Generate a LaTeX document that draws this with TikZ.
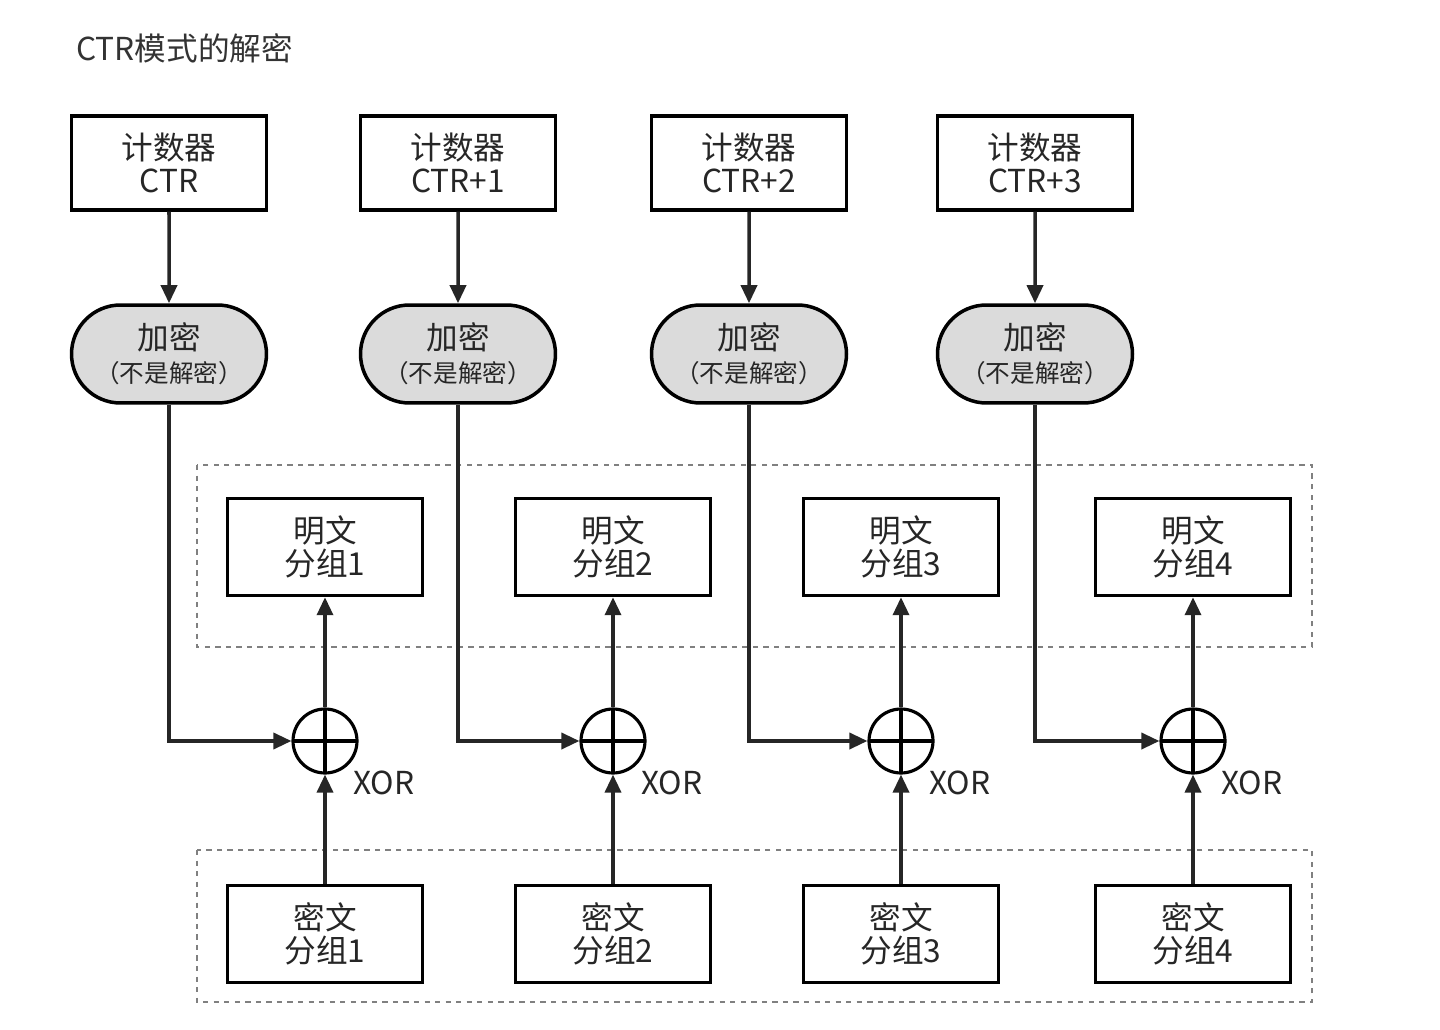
\documentclass[tikz,border=0pt]{standalone}
\usepackage{fontspec}
\setmainfont{Noto Sans CJK SC}
\usepackage{tikz}
\usetikzlibrary{arrows.meta,positioning,calc,shapes.misc}

\begin{document}
\begin{tikzpicture}[
    x=0.02cm,y=-0.02cm,
    every node/.style={font=\fontsize{18}{21}\selectfont,text=black!85},
    ctrbox/.style={draw,line width=2pt,minimum width=3.9cm,minimum height=1.88cm,align=center,inner sep=0pt},
    encbox/.style={draw,line width=2pt,rounded rectangle,fill=gray!28,minimum width=3.9cm,minimum height=1.96cm,align=center,inner sep=0pt},
    blkbox/.style={draw,line width=2pt,minimum width=3.9cm,minimum height=1.94cm,align=center,inner sep=0pt},
    xorc/.style={draw,circle,line width=1.8pt,minimum size=1.28cm,inner sep=0pt,
        path picture={\draw[line width=1.8pt] (path picture bounding box.north) -- (path picture bounding box.south)
            (path picture bounding box.west) -- (path picture bounding box.east);}},
    arr/.style={-{Triangle[length=3.6mm,width=3.2mm]},line width=2pt,black!85},
    frame/.style={draw=gray,dashed,line width=0.7pt}
]
\useasboundingbox (0,0) rectangle (1440,1030);

% title
\node[anchor=west,font=\fontsize{18}{21}\selectfont,black!80] (title) at (70,48) {CTR模式的解密};

% dashed frames
\draw[frame] (197,465) rectangle (1312,647);
\draw[frame] (197,850) rectangle (1312,1002);

% four columns
\foreach \i/\cx/\px/\lab in {1/169/325/CTR,2/458/613/CTR+1,3/749/901/CTR+2,4/1035/1193/CTR+3}{
  \node[ctrbox] (ctr\i) at (\cx,163) {计数器\\[-2pt]\lab};
  \node[encbox] (enc\i) at (\cx,354) {加密\\[-2pt]{\fontsize{14}{16}\selectfont （不是解密）}};
  \node[blkbox] (pt\i)  at (\px,547) {明文\\[-2pt]分组\i};
  \node[xorc]   (xor\i) at (\px,741) {};
  \node[anchor=west] (xl\i) at (\px+22,783) {XOR};
  \node[blkbox] (ct\i)  at (\px,934) {密文\\[-2pt]分组\i};

  \draw[arr] (ctr\i) -- (enc\i);
  \draw[arr] (enc\i.south) |- (xor\i.west);
  \draw[arr] (ct\i) -- (xor\i.south);
  \draw[arr] (xor\i.north) -- (pt\i);
}
\end{tikzpicture}
\end{document}
